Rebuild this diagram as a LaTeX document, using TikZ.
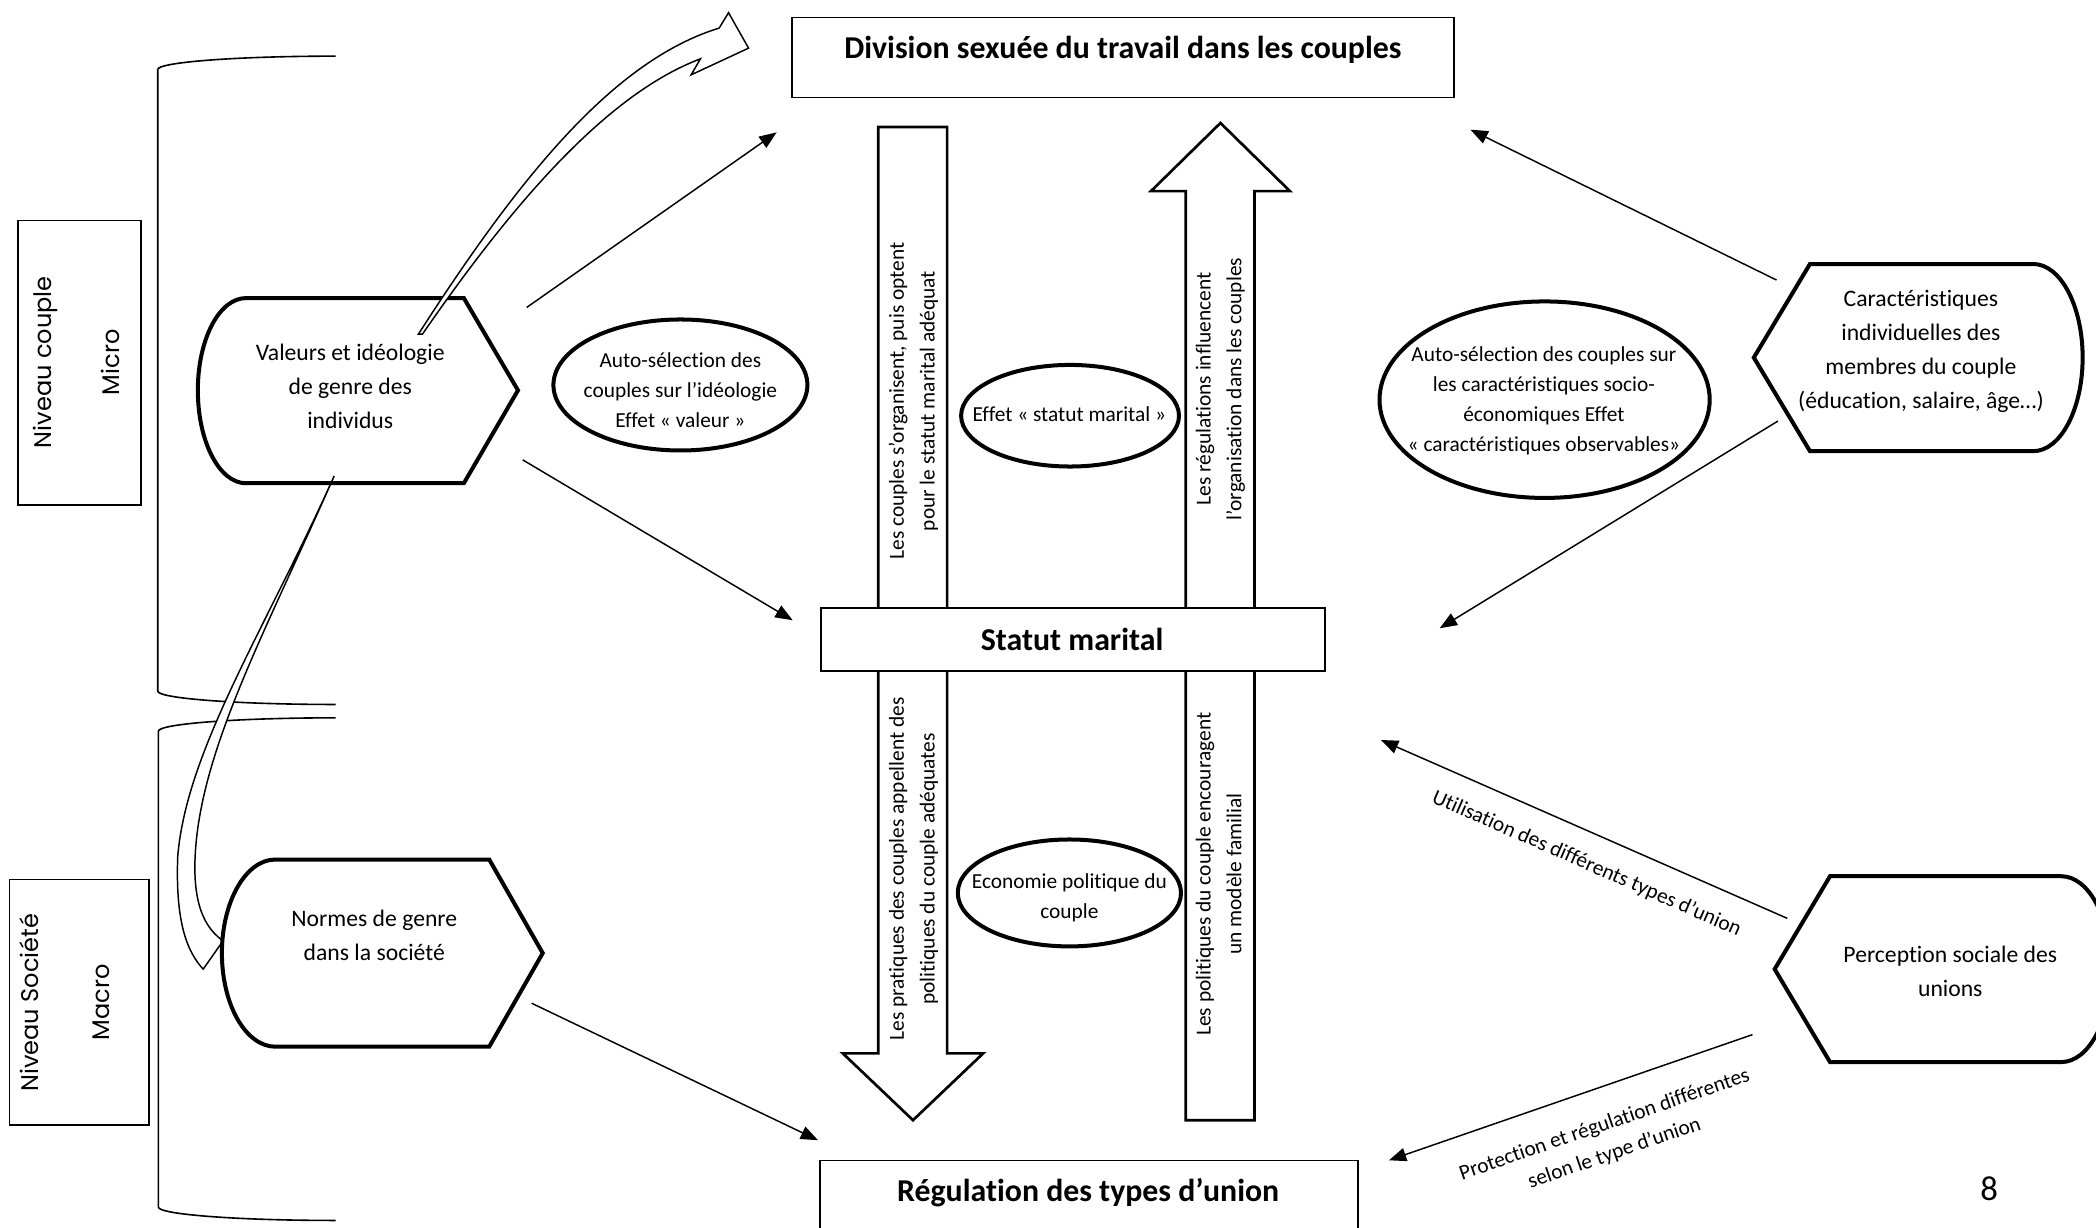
\documentclass[tikz,border=0pt]{standalone}
\usepackage{fontspec}
\setmainfont{Carlito}[Ligatures={CommonOff,ContextualOff}]
\newfontfamily\gothic{Poppins}
\usetikzlibrary{arrows.meta,shapes.geometric}
\newcommand\sr{\strut}
\begin{document}
\begin{tikzpicture}[x=1pt,y=-1pt,
  thk/.style={draw,line width=3pt,fill=white,line join=miter},
  ell/.style={draw,ellipse,line width=3pt,fill=white,inner sep=0pt},
  rbox/.style={draw,line width=1.2pt,fill=white,inner sep=0pt},
  barrow/.style={draw,line width=2pt,fill=white,line join=miter},
  conn/.style={line width=1.1pt,-{Triangle[length=13pt,width=10pt]}},
  ribbon/.style={draw,line width=1.1pt,fill=white,line join=miter},
  brk/.style={line width=1.2pt},
  stxt/.style={inner sep=0pt,align=center,font=\fontsize{17.7pt}{25.4pt}\selectfont},
  etxt/.style={inner sep=0pt,align=center,font=\fontsize{16pt}{22.4pt}\selectfont},
  atxt/.style={inner sep=0pt,align=center,rotate=90,font=\fontsize{16pt}{23pt}\selectfont},
  btxt/.style={inner sep=0pt,font=\bfseries\fontsize{23.8pt}{28pt}\selectfont},
  ltxt/.style={inner sep=0pt,align=center,font=\fontsize{16pt}{22.6pt}\selectfont},
  gtxt/.style={inner sep=0pt,rotate=90,font=\gothic\fontsize{18pt}{21pt}\selectfont}
]
\useasboundingbox[fill=white] (0,0) rectangle (1568,918);

% brackets
\draw[brk] (251,42) .. controls (177.6,42) and (118,46.5) .. (118,52) -- (118,517) .. controls (118,522.5) and (177.6,527) .. (251,527);
\draw[brk] (251,537) .. controls (177.6,537) and (118.5,541.5) .. (118.5,547) -- (118.5,903) .. controls (118.5,908.5) and (177.6,913) .. (251,913);

% level boxes
\node[rbox,minimum width=92pt,minimum height=213pt] (lvl1) at (59.45,271.5) {};
\node[gtxt] (nc) at (34.7,271) {\sr Niveau couple};
\node[gtxt] (mi) at (85.5,271) {\sr Micro};
\node[rbox,minimum width=104.5pt,minimum height=183.6pt] (lvl2) at (59.25,749.8) {};
\node[gtxt] (ns) at (24.8,750) {\sr Niveau Société};
\node[gtxt] (ma) at (78,750) {\sr Macro};

% block arrows
\draw[barrow] (657,95) -- (708.5,95) -- (708.5,788) -- (735.5,788) -- (683,838) -- (630.5,788) -- (657,788) -- cycle;
\draw[barrow] (887,838) -- (887,143) -- (861,143) -- (913,92) -- (965,143) -- (938.5,143) -- (938.5,838) -- cycle;

% main boxes
\node[rbox,minimum width=495.2pt,minimum height=60pt] (div) at (840.1,43) {};
\node[btxt] (divt) at (840,37) {Division sexuée du travail dans les couples};
\node[rbox,minimum width=377pt,minimum height=47pt] (stat) at (802.5,478.5) {};
\node[btxt] (statt) at (802,478) {Statut marital};
\node[rbox,minimum width=402.5pt,minimum height=62pt] (reg) at (814.75,899) {};
\node[btxt] (regt) at (814,892) {Régulation des types d’union};

% texts in block arrows
\node[atxt] (ul) at (683,300) {\sr Les couples s’organisent, puis optent\\\sr pour le statut marital adéquat};
\node[atxt] (ll) at (683,650) {\sr Les pratiques des couples appellent des\\\sr politiques du couple adéquates};
\node[atxt] (ur) at (912.5,291) {\sr Les régulations influencent\\\sr l’organisation dans les couples};
\node[atxt] (lr) at (912.5,654) {\sr Les politiques du couple encouragent\\\sr un modèle familial};

% ellipses
\node[ell,minimum width=190pt,minimum height=98pt] (e1) at (509,288) {};
\node[etxt] (e1t) at (509,293) {\sr Auto-sélection des\\\sr couples sur l’idéologie\\\sr Effet « valeur »};
\node[ell,minimum width=163pt,minimum height=76pt] (e2) at (800.5,311) {};
\node[etxt] (e2t) at (800,311) {\sr Effet « statut marital »};
\node[ell,minimum width=247pt,minimum height=147pt] (e3) at (1155.5,299) {};
\node[etxt] (e3t) at (1155,299.5) {\sr Auto-sélection des couples sur\\\sr les caractéristiques socio-\\\sr économiques Effet\\\sr « caractéristiques observables»};
\node[ell,minimum width=167pt,minimum height=80pt] (e4) at (800,668) {};
\node[etxt] (e4t) at (800,671.5) {\sr Economie politique du\\\sr couple};

% display shapes
\draw[thk] (184,223) -- (347,223) -- (387.5,292) -- (347,361.5) -- (184,361.5) .. controls (164.1,361.5) and (148,330.4) .. (148,292) .. controls (148,253.6) and (164.1,223) .. (184,223) -- cycle;
\node[stxt] (val) at (262,290) {\sr Valeurs et idéologie\\\sr de genre des\\\sr individus};
\draw[thk] (1354,197.5) -- (1521,197.5) .. controls (1541.4,197.5) and (1558,228.8) .. (1558,267.5) .. controls (1558,306.2) and (1541.4,337.5) .. (1521,337.5) -- (1354,337.5) -- (1312,267.5) -- cycle;
\node[stxt] (car) at (1437,262.6) {\sr Caractéristiques\\\sr individuelles des\\\sr membres du couple\\\sr (éducation, salaire, âge…)};
\draw[thk] (1369,655.5) -- (1542,655.5) .. controls (1562.4,655.5) and (1579,686.2) .. (1579,725) .. controls (1579,763.8) and (1562.4,794.5) .. (1542,794.5) -- (1369,794.5) -- (1327.6,725) -- cycle;
\node[stxt] (per) at (1459,728) {\sr Perception sociale des\\\sr unions};

% curved ribbon arrows
\draw[ribbon] (313,250) .. controls (390,130) and (460,45) .. (538,21) -- (545,9.5) -- (560,36) -- (517,56) -- (524,44) .. controls (455,70) and (385,150) .. (316,250) -- cycle;
\draw[ribbon] (250,356) .. controls (200,470) and (150,560) .. (146,640) .. controls (144,680) and (155,698) .. (172,707) -- (178,688) -- (152,725) .. controls (140,712) and (131,690) .. (133,640) .. controls (140,560) and (199,470) .. (250,356) -- cycle;

% Normes shape (over the lower ribbon head)
\draw[thk] (206,643) -- (366,643) -- (406,713) -- (366,783) -- (206,783) .. controls (183.9,783) and (166,751.6) .. (166,713) .. controls (166,674.4) and (183.9,643) .. (206,643) -- cycle;
\node[stxt] (nor) at (280,700.5) {\sr Normes de genre\\\sr dans la société};

% connectors
\coordinate (a1) at (394,230); \coordinate (a2) at (581,99);
\coordinate (b1) at (391,344); \coordinate (b2) at (593,464);
\coordinate (c1) at (1329,209.5); \coordinate (c2) at (1100,97);
\coordinate (d1) at (1330,315); \coordinate (d2) at (1077,470);
\coordinate (f1e) at (1337,687); \coordinate (f2e) at (1033,553.6);
\coordinate (p1) at (1311,774); \coordinate (p2) at (1039,868);
\coordinate (g1) at (397.7,750.5); \coordinate (g2) at (612,853);
\draw[conn] (a1) -- (a2);
\draw[conn] (b1) -- (b2);
\draw[conn] (c1) -- (c2);
\draw[conn] (d1) -- (d2);
\draw[conn] (f1e) -- (f2e);
\draw[conn] (p1) -- (p2);
\draw[conn] (g1) -- (g2);

\node[ltxt,rotate=-23.6] (labe) at (1187,646) {\sr Utilisation des différents types d’union};
\node[ltxt,rotate=19] (labf) at (1204,852) {\sr Protection et régulation différentes\\\sr selon le type d’union};

\node[inner sep=0pt,font=\fontsize{26pt}{30pt}\selectfont] (pg) at (1488,889) {8};
\end{tikzpicture}
\end{document}
